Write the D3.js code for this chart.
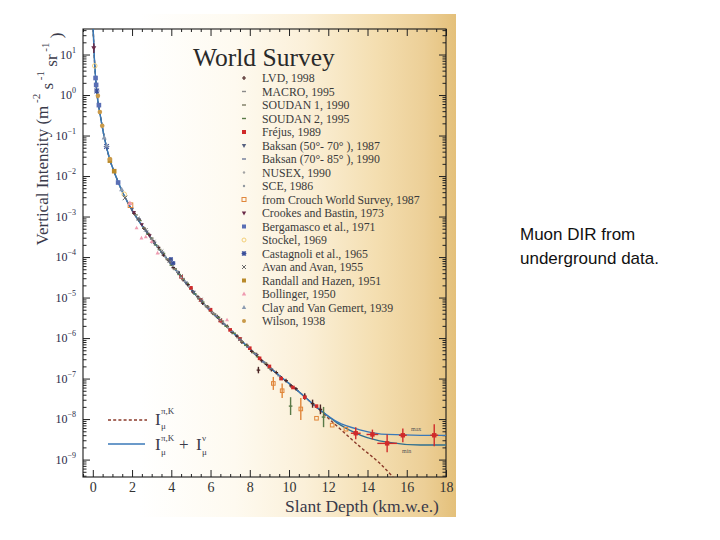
<!DOCTYPE html>
<html><head><meta charset="utf-8">
<script src="https://cdn.jsdelivr.net/npm/d3@7"></script>
<style>body{margin:0;background:#fff}svg{display:block}</style>
</head><body><svg id="c" width="720" height="540"></svg>
<script>
// ---------- data ----------
const xTicks = [0, 2, 4, 6, 8, 10, 12, 14, 16, 18];
const yTickExps = [-9, -8, -7, -6, -5, -4, -3, -2, -1, 0, 1];

// fitted curves (depth km.w.e., log10 intensity)
const curveDepth = [0.02, 0.07, 0.14, 0.22, 0.36, 0.58, 0.87, 1.09, 1.47, 1.9, 2.92, 4.1, 5.47, 7.18, 8.88, 10.4, 11.6, 12.46, 13.66, 15.0, 16.7, 18.0];
const curveMax   = [1.63, 1.0, 0.45, 0.0, -0.44, -1.03, -1.6, -1.9, -2.35, -2.76, -3.5, -4.24, -5.06, -5.88, -6.67, -7.28, -7.78, -8.07, -8.27, -8.38, -8.40, -8.40];
const curveMin   = [1.63, 1.0, 0.45, 0.0, -0.44, -1.03, -1.6, -1.9, -2.35, -2.76, -3.5, -4.24, -5.06, -5.88, -6.67, -7.28, -7.78, -8.10, -8.40, -8.57, -8.64, -8.64];
const piKDepth = [0.02, 0.07, 0.14, 0.22, 0.36, 0.58, 0.87, 1.09, 1.47, 1.9, 2.92, 4.1, 5.47, 7.18, 8.88, 10.4, 11.6, 12.46, 13.66, 14.6, 15.3];
const piKLog   = [1.63, 1.0, 0.45, 0.0, -0.44, -1.03, -1.6, -1.9, -2.35, -2.76, -3.5, -4.24, -5.06, -5.88, -6.67, -7.28, -7.80, -8.18, -8.70, -9.08, -9.43];

const seriesNames = ["LVD, 1998", "MACRO, 1995", "SOUDAN 1, 1990", "SOUDAN 2, 1995", "Fr\u00e9jus, 1989",
  "Baksan (50\u00b0- 70\u00b0 ), 1987", "Baksan (70\u00b0- 85\u00b0 ), 1990", "NUSEX, 1990", "SCE, 1986",
  "from Crouch World Survey, 1987", "Crookes and Bastin, 1973", "Bergamasco et al., 1971", "Stockel, 1969",
  "Castagnoli et al., 1965", "Avan and Avan, 1955", "Randall and Hazen, 1951", "Bollinger, 1950",
  "Clay and Van Gemert, 1939", "Wilson, 1938"];
const seriesColors = ["#4a2424", "#8a8a8a", "#7a7a62", "#5a7a48", "#d02a2a", "#56617f", "#6f7a98", "#a4a4a4", "#90989f",
  "#e0863a", "#6a2a48", "#5a6fb5", "#f3cf78", "#3a4f9a", "#6a6a6a", "#b98a2a", "#ef9ab0", "#8a9ab0", "#c99a4a"];
const seriesSymbols = ["plus", "dash", "dash", "dash", "square", "tridown", "dash", "dot", "dot",
  "osquare", "tridown", "square", "ocircle", "star", "x", "square", "triangle", "triangle", "circle"];

// points: [depth, log10 I, yErr(log), xErr(km)]
const lvd = [[2.1,-2.92],[2.35,-3.07],[2.6,-3.29],[2.85,-3.44],[3.1,-3.63],[3.35,-3.76],[3.6,-3.95],[3.85,-4.07],[4.1,-4.26],[4.35,-4.38],[4.6,-4.56],[4.85,-4.68],[5.1,-4.86],[5.35,-4.98],[5.6,-5.14],[5.85,-5.23],[6.1,-5.38],[6.35,-5.47],[6.6,-5.62],[6.85,-5.71],[7.1,-5.86],[7.35,-5.95],[7.6,-6.10],[7.85,-6.18],[8.1,-6.33],[8.35,-6.41],[8.44,-6.79,0.08],[8.6,-6.56],[8.85,-6.65],[9.1,-6.78],[9.35,-6.85],[9.6,-6.98],[9.85,-7.05],[10.1,-7.18],[10.35,-7.25],[10.8,-7.44,0.08],[11.2,-7.62,0.1],[11.6,-7.76,0.12]];
const macro = [[3.0,-3.56],[3.4,-3.82],[3.8,-4.04],[4.2,-4.31],[4.6,-4.53],[5.0,-4.79],[5.4,-5.01],[5.8,-5.23],[6.2,-5.40],[6.6,-5.61],[7.0,-5.80],[7.4,-5.99]];
const soudan1 = [[2.2,-2.96],[2.6,-3.28],[3.0,-3.53],[3.4,-3.81],[3.8,-4.06],[4.2,-4.29],[4.6,-4.55],[5.0,-4.77],[5.4,-5.03],[5.8,-5.21],[6.2,-5.42],[6.6,-5.58],[7.0,-5.78],[7.6,-6.09],[8.2,-6.36],[8.8,-6.62],[9.6,-7.02]];
const soudan2 = [[2.4,-3.10],[2.8,-3.43],[3.2,-3.70],[3.6,-3.91],[4.0,-4.20],[4.4,-4.43],[4.8,-4.65],[5.2,-4.91],[5.6,-5.11],[6.0,-5.33],[6.4,-5.49],[6.8,-5.71],[7.2,-5.88],[7.8,-6.18],[8.4,-6.46],[9.0,-6.74],[10.08,-7.68,0.22],[11.76,-7.95,0.25]];
const frejus = [[4.5,-4.49],[5.0,-4.76],[5.5,-5.06],[6.0,-5.30],[6.5,-5.57],[7.0,-5.80],[7.5,-6.02],[8.0,-6.25],[8.5,-6.50],[9.0,-6.70],[9.6,-7.00],[10.2,-7.22],[10.8,-7.46],[11.4,-7.68],[13.4,-8.35,0.15,0.25],[14.25,-8.38,0.12,0.3],[15.0,-8.60,0.22,0.5],[15.8,-8.40,0.17,0.2],[17.4,-8.40,0.27,0.2]];
const baksan1 = [[2.0,-2.82],[2.35,-3.08],[2.75,-3.38],[3.15,-3.66],[3.55,-3.90],[3.95,-4.14],[4.35,-4.38],[4.75,-4.64],[5.15,-4.87],[5.55,-5.09]];
const baksan2 = [[5.9,-5.27],[6.3,-5.46],[6.7,-5.66],[7.1,-5.84],[7.5,-6.04],[7.9,-6.22],[8.3,-6.40],[8.7,-6.59],[9.1,-6.76],[9.5,-6.93]];
const nusex = [[4.1,-4.22],[4.5,-4.50],[4.9,-4.73],[5.3,-4.95],[5.7,-5.18],[6.1,-5.37],[6.5,-5.56],[6.9,-5.74]];
const sce = [[2.5,-3.18],[2.9,-3.48],[3.3,-3.74],[3.7,-3.99],[4.3,-4.36],[4.7,-4.60]];
const crouch = [[1.92,-2.72],[9.2,-7.12,0.16],[9.65,-7.30,0.18],[10.6,-7.75,0.27],[11.4,-7.98],[12.2,-8.15],[12.9,-8.25]];
const crookes = [[0.05,1.16,0.12],[2.1,-2.90],[2.5,-3.20],[2.9,-3.47]];
const bergamasco = [[0.14,0.42],[0.17,0.25],[0.31,-0.25],[1.29,-2.16]];
const stockel = [[0.1,0.72],[1.6,-2.45]];
const castagnoli = [[0.2,0.1],[0.7,-1.27],[3.98,-4.05],[4.1,-4.15]];
const avan = [[1.64,-2.54],[2.3,-3.05],[2.7,-3.33],[3.1,-3.62],[3.5,-3.86],[3.9,-4.10],[4.5,-4.47],[5.5,-5.05],[6.5,-5.55],[7.5,-6.03]];
const randall = [[0.87,-1.62],[1.09,-1.88]];
const bollinger = [[1.89,-2.67],[2.23,-3.28],[2.48,-3.53],[2.7,-3.50],[3.0,-3.62],[3.3,-3.90],[6.84,-5.55]];
const clay = [[0.58,-1.05],[0.7,-1.25],[1.47,-2.33]];
const wilson = [[0.26,-0.02],[0.36,-0.42],[0.48,-0.76],[0.87,-1.58]];
const seriesPoints = [lvd, macro, soudan1, soudan2, frejus, baksan1, baksan2, nusex, sce, crouch, crookes, bergamasco, stockel, castagnoli, avan, randall, bollinger, clay, wilson];

// ---------- drawing ----------
const svg = d3.select("#c");
const L = 83, R = 446, T = 29, B = 477;
const x = d3.scaleLinear().domain([-0.5, 18]).range([L, R]);
const y = d3.scaleLog().domain([Math.pow(10, -9.43), Math.pow(10, 1.63)]).range([B, T]);
const P = v => Math.pow(10, v);
const serif = "'Liberation Serif','DejaVu Serif',serif";

// background gradient
const defs = svg.append("defs");
const gr = defs.append("linearGradient").attr("id", "bg").attr("x1", "0").attr("x2", "1").attr("y1", "0").attr("y2", "0");
[[0, "#ffffff"], [0.3, "#fefaf0"], [0.52, "#fbf0d9"], [0.75, "#f4deb0"], [0.9, "#eccf97"], [1, "#e4c07a"]]
  .forEach(s => gr.append("stop").attr("offset", s[0]).attr("stop-color", s[1]));
svg.append("rect").attr("x", 140).attr("y", 14).attr("width", 316).attr("height", 503).attr("fill", "url(#bg)");

const clip = defs.append("clipPath").attr("id", "plotclip");
clip.append("rect").attr("x", L).attr("y", T).attr("width", R - L).attr("height", B - T);

// axes
const minorX = d3.range(-0.5, 18.01, 0.5).filter(v => v % 2 !== 0);
const minorY = [];
for (let e = -10; e <= 1; e++) for (let m = 2; m <= 9; m++) { const v = m * Math.pow(10, e); if (v >= y.domain()[0] && v <= y.domain()[1]) minorY.push(v); }

function clean(g) { g.select(".domain").remove(); g.selectAll("line").attr("stroke", "#222"); }

svg.append("g").attr("transform", `translate(0,${B})`)
  .call(d3.axisBottom(x).tickValues(xTicks).tickSizeInner(-7).tickSizeOuter(0).tickPadding(5).tickFormat(d3.format("d")))
  .call(clean)
  .call(g => g.selectAll("text").attr("font-family", serif).attr("font-size", 14).attr("fill", "#333"));
svg.append("g").attr("transform", `translate(0,${B})`)
  .call(d3.axisBottom(x).tickValues(minorX).tickSizeInner(-3).tickSizeOuter(0).tickFormat("")).call(clean);
svg.append("g").attr("transform", `translate(0,${T})`)
  .call(d3.axisTop(x).tickValues(xTicks).tickSizeInner(-7).tickSizeOuter(0).tickFormat("")).call(clean);
svg.append("g").attr("transform", `translate(0,${T})`)
  .call(d3.axisTop(x).tickValues(minorX).tickSizeInner(-3).tickSizeOuter(0).tickFormat("")).call(clean);

const yl = svg.append("g").attr("transform", `translate(${L},0)`)
  .call(d3.axisLeft(y).tickValues(yTickExps.map(P)).tickSizeInner(-7).tickSizeOuter(0).tickPadding(7).tickFormat(""))
  .call(clean);
yl.selectAll(".tick").each(function (d, i) {
  const t = d3.select(this).select("text").attr("font-family", serif).attr("fill", "#2a2a48").attr("dy", "0.38em");
  t.text(null);
  t.append("tspan").attr("font-size", 12).text("10");
  t.append("tspan").attr("font-size", 8).attr("dy", "-0.75em").text(yTickExps[i] < 0 ? "\u2212" + (-yTickExps[i]) : yTickExps[i]);
});
svg.append("g").attr("transform", `translate(${L},0)`)
  .call(d3.axisLeft(y).tickValues(minorY).tickSizeInner(-3.5).tickSizeOuter(0).tickFormat("")).call(clean);
svg.append("g").attr("transform", `translate(${R},0)`)
  .call(d3.axisRight(y).tickValues(yTickExps.map(P)).tickSizeInner(-7).tickSizeOuter(0).tickFormat("")).call(clean);
svg.append("g").attr("transform", `translate(${R},0)`)
  .call(d3.axisRight(y).tickValues(minorY).tickSizeInner(-3.5).tickSizeOuter(0).tickFormat("")).call(clean);

svg.append("rect").attr("x", L).attr("y", T).attr("width", R - L).attr("height", B - T)
  .attr("fill", "none").attr("stroke", "#1a1a1a").attr("stroke-width", 1.1);

// title
svg.append("text").attr("x", 193).attr("y", 66).attr("font-family", serif).attr("font-size", 25.5)
  .attr("fill", "#2a2a2a").text("World Survey");

// axis titles
const ylab = svg.append("text").attr("transform", "translate(48,139) rotate(-90)").attr("text-anchor", "middle")
  .attr("font-family", serif).attr("font-size", 17).attr("fill", "#3a3a4a");
ylab.append("tspan").text("Vertical Intensity  (m");
ylab.append("tspan").attr("font-size", 11).attr("dy", "-0.75em").text(" -2");
ylab.append("tspan").attr("dy", "0.75em").text("  s");
ylab.append("tspan").attr("font-size", 11).attr("dy", "-0.75em").text(" -1");
ylab.append("tspan").attr("dy", "0.75em").text("  sr");
ylab.append("tspan").attr("font-size", 11).attr("dy", "-0.75em").text(" -1");
ylab.append("tspan").attr("dy", "0.75em").text(" )");

svg.append("text").attr("x", 362).attr("y", 512).attr("text-anchor", "middle").attr("font-family", serif)
  .attr("font-size", 17.5).attr("fill", "#3a3a4a").text("Slant Depth (km.w.e.)");

// markers
function marker(g, type, color, cx, cy, s) {
  switch (type) {
    case "circle": g.append("circle").attr("cx", cx).attr("cy", cy).attr("r", s).attr("fill", color); break;
    case "ocircle": g.append("circle").attr("cx", cx).attr("cy", cy).attr("r", s).attr("fill", "none").attr("stroke", color).attr("stroke-width", 1); break;
    case "dot": g.append("circle").attr("cx", cx).attr("cy", cy).attr("r", s * 0.6).attr("fill", color); break;
    case "square": g.append("rect").attr("x", cx - s).attr("y", cy - s).attr("width", 2 * s).attr("height", 2 * s).attr("fill", color); break;
    case "osquare": g.append("rect").attr("x", cx - s).attr("y", cy - s).attr("width", 2 * s).attr("height", 2 * s).attr("fill", "none").attr("stroke", color).attr("stroke-width", 1); break;
    case "triangle": g.append("path").attr("d", `M${cx},${cy - s * 1.2}L${cx + s * 1.1},${cy + s * 0.8}L${cx - s * 1.1},${cy + s * 0.8}Z`).attr("fill", color); break;
    case "tridown": g.append("path").attr("d", `M${cx},${cy + s * 1.2}L${cx + s * 1.1},${cy - s * 0.8}L${cx - s * 1.1},${cy - s * 0.8}Z`).attr("fill", color); break;
    case "dash": g.append("path").attr("d", `M${cx - s},${cy}L${cx + s},${cy}`).attr("stroke", color).attr("stroke-width", 1.4); break;
    case "plus": g.append("path").attr("d", `M${cx - s},${cy}L${cx + s},${cy}M${cx},${cy - s}L${cx},${cy + s}`).attr("stroke", color).attr("stroke-width", 1.2); break;
    case "x": g.append("path").attr("d", `M${cx - s},${cy - s}L${cx + s},${cy + s}M${cx - s},${cy + s}L${cx + s},${cy - s}`).attr("stroke", color).attr("stroke-width", 1); break;
    case "star": g.append("path").attr("d", `M${cx - s},${cy - s}L${cx + s},${cy + s}M${cx - s},${cy + s}L${cx + s},${cy - s}M${cx - s * 1.2},${cy}L${cx + s * 1.2},${cy}M${cx},${cy - s * 1.2}L${cx},${cy + s * 1.2}`).attr("stroke", color).attr("stroke-width", 1.1); break;
  }
}

// curves
const plot = svg.append("g").attr("clip-path", "url(#plotclip)");
const line = d3.line().x(d => x(d[0])).y(d => y(P(d[1]))).curve(d3.curveMonotoneX);
plot.append("path").datum(piKDepth.map((d, i) => [d, piKLog[i]])).attr("d", line)
  .attr("fill", "none").attr("stroke", "#8b3a2a").attr("stroke-width", 1.4).attr("stroke-dasharray", "3,2.2");
plot.append("path").datum(curveDepth.map((d, i) => [d, curveMin[i]])).attr("d", line)
  .attr("fill", "none").attr("stroke", "#2f6f8f").attr("stroke-width", 1.3);
plot.append("path").datum(curveDepth.map((d, i) => [d, curveMax[i]])).attr("d", line)
  .attr("fill", "none").attr("stroke", "#3a78b8").attr("stroke-width", 1.3);

// data points with error bars
const pts = plot.append("g");
seriesPoints.forEach((arr, si) => {
  const col = seriesColors[si];
  arr.forEach(p => {
    const cx = x(p[0]), cy = y(P(p[1]));
    if (p[2]) pts.append("line").attr("x1", cx).attr("x2", cx).attr("y1", y(P(p[1] - p[2]))).attr("y2", y(P(p[1] + p[2])))
      .attr("stroke", col).attr("stroke-width", 1.4);
    if (p[3]) pts.append("line").attr("x1", x(p[0] - p[3])).attr("x2", x(p[0] + p[3])).attr("y1", cy).attr("y2", cy)
      .attr("stroke", col).attr("stroke-width", 1.4);
    marker(pts, seriesSymbols[si], col, cx, cy, p[3] ? 2.2 : (p[0] < 2 ? 2.3 : 1.8));
  });
});

svg.append("text").attr("x", 411).attr("y", 431).attr("font-family", serif).attr("font-size", 6).attr("fill", "#555").text("max");
svg.append("text").attr("x", 402).attr("y", 453).attr("font-family", serif).attr("font-size", 6).attr("fill", "#555").text("min");

// legend (data sets)
const lg = svg.append("g");
seriesNames.forEach((n, i) => {
  const yy = 78 + i * 13.5;
  marker(lg, seriesSymbols[i], seriesColors[i], 244, yy, 2);
  lg.append("text").attr("x", 262).attr("y", yy).attr("dy", "0.35em").attr("font-family", serif)
    .attr("font-size", 11.8).attr("fill", "#3a3a3a").text(n);
});

// legend (curves)
svg.append("line").attr("x1", 108).attr("x2", 147).attr("y1", 420).attr("y2", 420)
  .attr("stroke", "#8b3a2a").attr("stroke-width", 1.4).attr("stroke-dasharray", "3,2.2");
svg.append("line").attr("x1", 108).attr("x2", 145).attr("y1", 444).attr("y2", 444)
  .attr("stroke", "#3a78b8").attr("stroke-width", 1.3);
function tx(xx, yy, s, t) { svg.append("text").attr("x", xx).attr("y", yy).attr("font-family", serif).attr("font-size", s).attr("fill", "#3a3a4a").text(t); }
tx(155, 425, 17, "I"); tx(161, 414, 9, "\u03c0,K"); tx(161, 429, 9, "\u03bc");
tx(155, 450, 17, "I"); tx(161, 441, 9, "\u03c0,K"); tx(161, 455, 9, "\u03bc");
tx(179, 450, 17, "+"); tx(196, 450, 17, "I"); tx(202, 441, 9, "\u03bd"); tx(202, 455, 9, "\u03bc");

// side caption
const cap = svg.append("text").attr("font-family", "'Liberation Sans',Arial,sans-serif").attr("font-size", 17).attr("fill", "#111");
cap.append("tspan").attr("x", 520).attr("y", 240).text("Muon DIR from");
cap.append("tspan").attr("x", 520).attr("y", 264).text("underground data.");
</script></body></html>
